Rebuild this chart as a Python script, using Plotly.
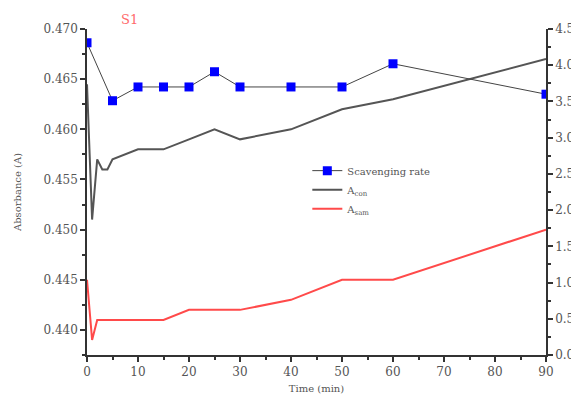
import plotly.graph_objects as go

time_sr = [0, 5, 10, 15, 20, 25, 30, 40, 50, 60, 90]
scavenging_rate = [4.31, 3.51, 3.70, 3.70, 3.70, 3.91, 3.70, 3.70, 3.70, 4.02, 3.60]

time_ab = [0, 1, 2, 3, 4, 5, 10, 15, 20, 25, 30, 40, 50, 60, 90]
a_con = [0.4645, 0.451, 0.457, 0.456, 0.456, 0.457, 0.458, 0.458, 0.459, 0.460, 0.459, 0.460, 0.462, 0.463, 0.467]
a_sam = [0.445, 0.439, 0.441, 0.441, 0.441, 0.441, 0.441, 0.441, 0.442, 0.442, 0.442, 0.443, 0.445, 0.445, 0.450]

left_ticks = [0.440, 0.445, 0.450, 0.455, 0.460, 0.465, 0.470]
right_ticks = [0.0, 0.5, 1.0, 1.5, 2.0, 2.5, 3.0, 3.5, 4.0, 4.5]
x_ticks = [0, 10, 20, 30, 40, 50, 60, 70, 80, 90]

font = "DejaVu Serif"
tick_color = "#555555"

fig = go.Figure()
fig.add_trace(go.Scatter(
    x=time_sr, y=scavenging_rate, name="Scavenging rate", yaxis="y2",
    mode="lines+markers",
    line=dict(color="#444444", width=1),
    marker=dict(symbol="square", size=9, color="#0000ff"),
))
fig.add_trace(go.Scatter(
    x=time_ab, y=a_con, name="A<sub>con</sub>", mode="lines",
    line=dict(color="#555555", width=2),
))
fig.add_trace(go.Scatter(
    x=time_ab, y=a_sam, name="A<sub>sam</sub>", mode="lines",
    line=dict(color="#ff4a4a", width=2),
))

axis_common = dict(
    showgrid=False, zeroline=False, showline=True, linecolor="#333333", linewidth=1.5,
    ticks="outside", ticklen=5, tickcolor="#333333", tickwidth=1.5, automargin=False,
    tickfont=dict(family=font, size=12, color=tick_color),
)

fig.update_layout(
    width=571, height=387,
    margin=dict(l=79, r=33, t=21, b=40),
    paper_bgcolor="white", plot_bgcolor="white",
    showlegend=True,
    legend=dict(x=0.48, y=0.61, xanchor="left", yanchor="top",
                font=dict(family=font, size=10, color="#555555"),
                bgcolor="rgba(0,0,0,0)", tracegroupgap=0, itemwidth=30),
    xaxis=dict(range=[0, 90], tickvals=x_ticks,
               minor=dict(ticks="outside", ticklen=3, dtick=5, tickcolor="#333333"),
               title=dict(text="Time (min)", font=dict(family=font, size=10, color=tick_color), standoff=7),
               **axis_common),
    yaxis=dict(range=[0.4375, 0.470], tickvals=left_ticks, tickformat=".3f",
               minor=dict(ticks="outside", ticklen=3, dtick=0.0025, tick0=0.4375, tickcolor="#333333"),
               title=dict(text="Absorbance (A)", font=dict(family=font, size=10, color=tick_color), standoff=20),
               **axis_common),
    yaxis2=dict(range=[0, 4.5], tickvals=right_ticks, tickformat=".1f", overlaying="y", side="right",
                minor=dict(ticks="outside", ticklen=3, dtick=0.25, tickcolor="#333333"),
                **axis_common),
    annotations=[dict(text="S1", x=0.093, y=1.0, xref="paper", yref="paper",
                      xanchor="center", yanchor="bottom", showarrow=False, yshift=0,
                      font=dict(family=font, size=13, color="#ff6b6b"))],
)

fig.write_html("out.html")
